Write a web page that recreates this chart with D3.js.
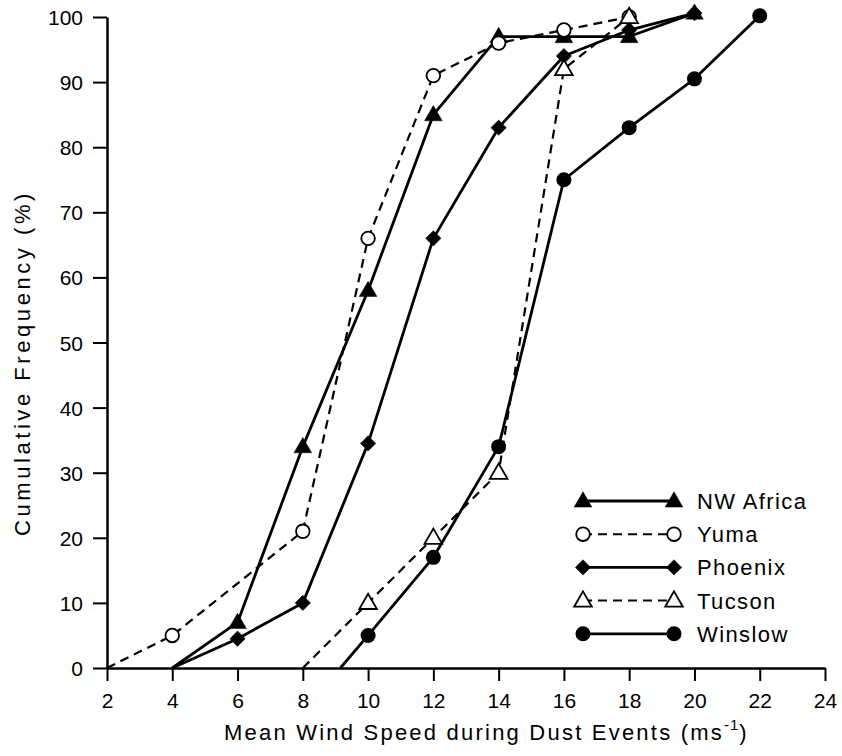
<!DOCTYPE html>
<html>
<head>
<meta charset="utf-8">
<script src="https://cdn.jsdelivr.net/npm/d3@7"></script>
<style>
  html, body { margin: 0; padding: 0; background: #fff; }
  svg { display: block; }
  text { font-family: "Liberation Sans", Arial, Helvetica, sans-serif; fill: #000; }
</style>
</head>
<body>
<svg id="chart" width="842" height="756"></svg>
<script>
// Wind speed (m/s) at each observed point and cumulative frequency (%) per station
const nwAfricaX = [4, 6, 8, 10, 12, 14, 16, 18, 20];
const nwAfricaY = [0, 7, 34, 58, 85, 97, 97, 97, 100.6];

const yumaX = [2, 4, 8, 10, 12, 14, 16, 18];
const yumaY = [0, 5, 21, 66, 91, 96, 98, 100];

const phoenixX = [4, 6, 8, 10, 12, 14, 16, 18, 20];
const phoenixY = [0, 4.5, 10, 34.5, 66, 83, 94, 98, 100.6];

const tucsonX = [8, 10, 12, 14, 16, 18];
const tucsonY = [0, 10, 20, 30, 92, 100];

const winslowX = [9.15, 10, 12, 14, 16, 18, 20, 22];
const winslowY = [0, 5, 17, 34, 75, 83, 90.5, 100.2];

const seriesNames = ["NW Africa", "Yuma", "Phoenix", "Tucson", "Winslow"];
const xTicks = [2, 4, 6, 8, 10, 12, 14, 16, 18, 20, 22, 24];
const yTicks = [0, 10, 20, 30, 40, 50, 60, 70, 80, 90, 100];

const series = [
  { name: seriesNames[0], xs: nwAfricaX, ys: nwAfricaY, marker: "triangle", filled: true,  dashed: false },
  { name: seriesNames[1], xs: yumaX,     ys: yumaY,     marker: "circle",   filled: false, dashed: true  },
  { name: seriesNames[2], xs: phoenixX,  ys: phoenixY,  marker: "diamond",  filled: true,  dashed: false },
  { name: seriesNames[3], xs: tucsonX,   ys: tucsonY,   marker: "triangle", filled: false, dashed: true  },
  { name: seriesNames[4], xs: winslowX,  ys: winslowY,  marker: "circle",   filled: true,  dashed: false }
];

const svg = d3.select("#chart");
const x = d3.scaleLinear().domain([2, 24]).range([107, 825]);
const y = d3.scaleLinear().domain([0, 100]).range([668, 17]);

// spread a text's letters so it covers the given width
function fitWidth(sel, width) {
  sel.style("letter-spacing", "0px");
  const n = sel.text().length;
  const natural = sel.node().getComputedTextLength();
  sel.style("letter-spacing", `${(width - natural) / n}px`);
}

// axes
const xAxis = svg.append("g")
  .attr("transform", `translate(0,${y(0)})`)
  .call(d3.axisBottom(x).tickValues(xTicks).tickSize(13).tickSizeOuter(0).tickPadding(8));
const yAxis = svg.append("g")
  .attr("transform", `translate(${x(2)},0)`)
  .call(d3.axisLeft(y).tickValues(yTicks).tickSize(14).tickSizeOuter(0).tickPadding(10));

[xAxis, yAxis].forEach(g => {
  g.select(".domain").attr("stroke", "#000").attr("stroke-width", 2.5);
  g.selectAll(".tick line").attr("stroke", "#000").attr("stroke-width", 2);
  g.selectAll(".tick text")
    .style("font-family", '"Liberation Sans", Arial, sans-serif')
    .style("font-size", "21px").attr("fill", "#000");
});
xAxis.selectAll(".tick text").attr("dy", "0.9em");
yAxis.selectAll(".tick text").attr("dy", "0.36em");

// axis titles
const xTitle = svg.append("text")
  .attr("x", 224).attr("y", 740)
  .attr("text-anchor", "start")
  .style("font-size", "22px");
const xMain = xTitle.append("tspan").text("Mean Wind Speed during Dust Events (ms");
fitWidth(xMain, 500);
xTitle.append("tspan").attr("dy", -10).style("font-size", "15px").style("letter-spacing", "1px").text("-1");
xTitle.append("tspan").attr("dy", 10).style("letter-spacing", "0px").text(")");

const yTitle = svg.append("text")
  .attr("transform", `translate(30,${363}) rotate(-90)`)
  .attr("text-anchor", "middle")
  .style("font-size", "22px")
  .text("Cumulative Frequency (%)");
fitWidth(yTitle, 346);

// marker shapes
function markerPath(kind) {
  if (kind === "triangle") return d3.symbol().type(d3.symbolTriangle).size(135)();
  if (kind === "diamond") return d3.symbol().type(d3.symbolSquare).size(118)();
  return null;
}

function drawMarker(g, s, cx, cy) {
  const fill = s.filled ? "#000" : "#fff";
  if (s.marker === "circle") {
    g.append("circle").attr("cx", cx).attr("cy", cy)
      .attr("r", s.filled ? 7.5 : 6.8)
      .attr("fill", fill).attr("stroke", "#000").attr("stroke-width", s.filled ? 0 : 1.8);
  } else {
    const rot = s.marker === "diamond" ? 45 : 0;
    g.append("path").attr("d", markerPath(s.marker))
      .attr("transform", `translate(${cx},${cy + (s.marker === "triangle" ? 1 : 0)}) rotate(${rot})`)
      .attr("fill", fill).attr("stroke", "#000").attr("stroke-width", s.filled ? 0.5 : 1.8)
      .attr("stroke-linejoin", "miter");
  }
}

const line = d3.line().x(d => x(d[0])).y(d => y(d[1]));
const plot = svg.append("g");

series.forEach(s => {
  const pts = s.xs.map((v, i) => [v, s.ys[i]]);
  plot.append("path")
    .datum(pts)
    .attr("d", line)
    .attr("fill", "none")
    .attr("stroke", "#000")
    .attr("stroke-width", s.dashed ? 2.2 : 2.8)
    .attr("stroke-dasharray", s.dashed ? "9,6" : null)
    .attr("stroke-linejoin", "round");
});

// markers on top of every line; the zero crossings carry none
series.forEach(s => {
  const g = plot.append("g");
  s.xs.forEach((v, i) => {
    if (s.ys[i] === 0) return;
    drawMarker(g, s, x(v), y(s.ys[i]));
  });
});

// legend
const legend = svg.append("g");
const legX0 = 583, legX1 = 674, legTextX = 697, legY0 = 501, legStep = 33.2;
series.forEach((s, i) => {
  const yy = legY0 + i * legStep;
  const g = legend.append("g");
  g.append("line").attr("x1", legX0).attr("x2", legX1).attr("y1", yy).attr("y2", yy)
    .attr("stroke", "#000").attr("stroke-width", s.dashed ? 2 : 2.8)
    .attr("stroke-dasharray", s.dashed ? "9,6" : null);
  drawMarker(g, s, legX0, yy);
  drawMarker(g, s, legX1, yy);
  g.append("text").attr("x", legTextX).attr("y", yy).attr("dy", "0.36em")
    .style("font-size", "22px").style("letter-spacing", "1.4px")
    .text(s.name);
});
</script>
</body>
</html>
